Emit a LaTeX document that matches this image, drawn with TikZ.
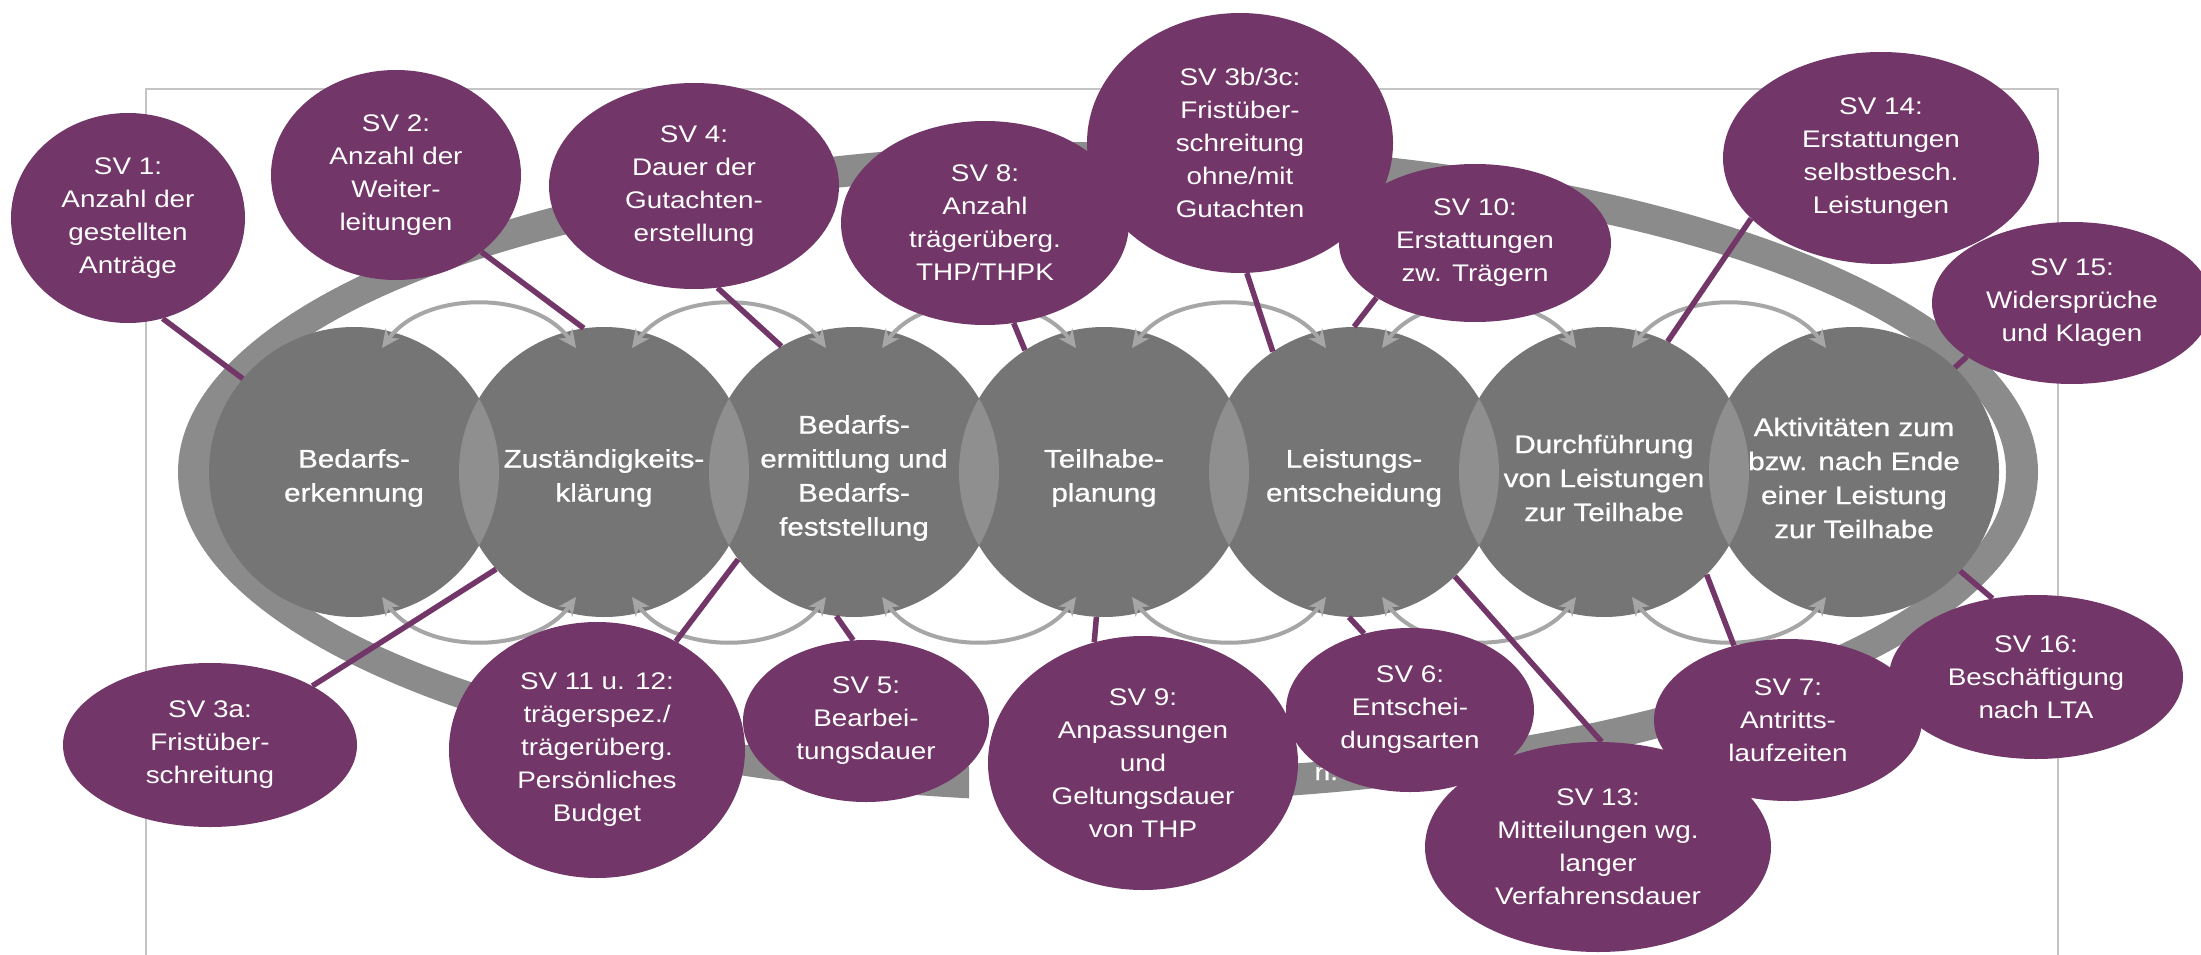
\documentclass[tikz,border=0pt]{standalone}
\usepackage{fontspec}
\setmainfont{Liberation Sans}[FakeStretch=1.16]
\newfontfamily\medfont{Liberation Sans}[FakeStretch=1.16,FakeBold=0.8]
\usetikzlibrary{shapes.geometric,arrows.meta,calc}
\definecolor{svpurple}{RGB}{115,54,104}
\definecolor{circgray}{RGB}{117,117,117}
\definecolor{lensgray}{RGB}{143,143,143}
\definecolor{bandgray}{RGB}{139,139,139}
\definecolor{arrgray}{RGB}{166,166,166}
\definecolor{framegray}{RGB}{196,196,196}
\pgfdeclarelayer{bg}\pgfdeclarelayer{circ}\pgfdeclarelayer{arr}\pgfdeclarelayer{conn}
\pgfsetlayers{bg,circ,arr,conn,main}
\tikzset{
  sv/.style={ellipse, fill=svpurple, inner sep=0pt, text=white, align=center,
    font=\fontsize{24}{33}\selectfont},
  gcirc/.style={circle, fill=circgray, minimum size=290pt, inner sep=0pt},
  glabel/.style={text=white, align=center, inner sep=0pt, font=\medfont\fontsize{25.5}{34}\selectfont},
  bandtext/.style={text=white, inner sep=0pt, font=\medfont\fontsize{24}{30}\selectfont},
  sarrow/.style={draw=arrgray, line width=4pt,
    {Stealth[length=18pt,width=17pt]}-{Stealth[length=18pt,width=17pt]}},
  conn/.style={draw=svpurple, line width=5.5pt},
  framestyle/.style={draw=framegray, line width=1.5pt},
}
\begin{document}
\begin{tikzpicture}[x=1pt,y=-1pt]
\useasboundingbox (0,0) rectangle (2201,955);

% ---------- background: frame and ring band ----------
\begin{pgfonlayer}{bg}
  \fill[white] (0,0) rectangle (2201,955);
  \draw[framestyle] (146,960) -- (146,89) -- (2058,89) -- (2058,960);
  \begin{scope}
    \clip (-10,-10) -- (2211,-10) -- (2211,965) -- (1200,965) -- (1200,600)
          -- (969,600) -- (969,965) -- (-10,965) -- cycle;
    \fill[bandgray, even odd rule]
      (1108,472) ellipse [x radius=930, y radius=330]
      (1108,472) ellipse [x radius=898, y radius=298];
  \end{scope}
  \node[bandtext, anchor=base east] (bandtxt) at (1338,780) {n.};
\end{pgfonlayer}

% ---------- process circles ----------
\begin{pgfonlayer}{circ}
  \foreach \i in {1,...,7}
    \node[gcirc] (c\i) at ({354+250*(\i-1)},472) {};
  \foreach \i [count=\j from 2] in {1,...,6} {
    \begin{scope}
      \clip (c\i.center) circle (145);
      \fill[lensgray] (c\j.center) circle (145);
    \end{scope}
  }
  \node[glabel] (l1) at ($(c1.center)+(0,6)$) {Bedarfs-\\erkennung};
  \node[glabel] (l2) at ($(c2.center)+(0,6)$) {Zuständigkeits-\\klärung};
  \node[glabel] (l3) at ($(c3.center)+(0,6)$) {Bedarfs-\\ermittlung und\\Bedarfs-\\feststellung};
  \node[glabel] (l4) at ($(c4.center)+(0,6)$) {Teilhabe-\\planung};
  \node[glabel] (l5) at ($(c5.center)+(0,6)$) {Leistungs-\\entscheidung};
  \node[glabel] (l6) at ($(c6.center)+(0,6)$) {Durchführung\\von Leistungen\\zur Teilhabe};
  \node[glabel] (l7) at ($(c7.center)+(0,6)$) {Aktivitäten zum\\bzw. nach Ende\\einer Leistung\\zur Teilhabe};
\end{pgfonlayer}

% ---------- small double arrows between circles ----------
\begin{pgfonlayer}{arr}
  \foreach \i [count=\j from 2] in {1,...,6} {
    \draw[sarrow] ($(c\i.center)+(28,-124)$) .. controls ($(c\i.center)+(70,-182)$)
      and ($(c\j.center)+(-70,-182)$) .. ($(c\j.center)+(-28,-124)$);
    \draw[sarrow] ($(c\i.center)+(28,125)$) .. controls ($(c\i.center)+(70,183)$)
      and ($(c\j.center)+(-70,183)$) .. ($(c\j.center)+(-28,125)$);
  }
\end{pgfonlayer}

% ---------- purple indicator bubbles ----------
\node[sv, minimum width=234pt, minimum height=210pt] (sv1) at (128,218) {SV 1:\\Anzahl der\\gestellten\\Anträge};
\node[sv, minimum width=250pt, minimum height=210pt] (sv2) at (396,175) {SV 2:\\Anzahl der\\Weiter-\\leitungen};
\node[sv, minimum width=290pt, minimum height=206pt] (sv4) at (694,186) {SV 4:\\Dauer der\\Gutachten-\\erstellung};
\node[sv, minimum width=288pt, minimum height=204pt] (sv8) at (985,223) {SV 8:\\Anzahl\\trägerüberg.\\THP/THPK};
\node[sv, minimum width=306pt, minimum height=260pt] (sv3b) at (1240,143) {SV 3b/3c:\\Fristüber-\\schreitung\\ohne/mit\\Gutachten};
\node[sv, minimum width=272pt, minimum height=158pt] (sv10) at (1475,243) {SV 10:\\Erstattungen\\zw. Trägern};
\node[sv, minimum width=316pt, minimum height=212pt] (sv14) at (1881,158) {SV 14:\\Erstattungen\\selbstbesch.\\Leistungen};
\node[sv, minimum width=280pt, minimum height=162pt] (sv15) at (2072,303) {SV 15:\\Widersprüche\\und Klagen};
\node[sv, minimum width=294pt, minimum height=164pt] (sv3a) at (210,745) {SV 3a:\\Fristüber-\\schreitung};
\node[sv, minimum width=296pt, minimum height=256pt] (sv11) at (597,750) {SV 11 u. 12:\\trägerspez./\\trägerüberg.\\Persönliches\\Budget};
\node[sv, minimum width=246pt, minimum height=162pt] (sv5) at (866,721) {SV 5:\\Bearbei-\\tungsdauer};
\node[sv, minimum width=310pt, minimum height=254pt] (sv9) at (1143,763) {SV 9:\\Anpassungen\\und\\Geltungsdauer\\von THP};
\node[sv, minimum width=248pt, minimum height=164pt] (sv6) at (1410,710) {SV 6:\\Entschei-\\dungsarten};
\node[sv, minimum width=294pt, minimum height=164pt] (sv16) at (2036,677) {SV 16:\\Beschäftigung\\nach LTA};
\node[sv, minimum width=268pt, minimum height=162pt] (sv7) at (1788,720) {SV 7:\\Antritts-\\laufzeiten};
\node[sv, minimum width=346pt, minimum height=210pt] (sv13) at (1598,847) {SV 13:\\Mitteilungen wg.\\langer\\Verfahrensdauer};

% ---------- connectors ----------
\begin{pgfonlayer}{conn}
  \draw[conn] (sv1.-71.6) -- (c1.140.6);
  \draw[conn] (sv2.-42.5) -- (c2.98.8);
  \draw[conn] (sv4.-77) -- (c3.120.5);
  \draw[conn] (sv8.-74.6) -- (c4.123.3);
  \draw[conn] (sv3b.-87.3) -- (c5.124.3);
  \draw[conn] (sv10.209.7) -- (c5.90.4);
  \draw[conn] (sv14.205.7) -- (c6.64.3);
  \draw[conn] (sv15.207) -- (c7.46.7);
  \draw[conn] (sv3a.30) -- (c2.222.5);
  \draw[conn] (sv11.54.7) -- (c3.217.6);
  \draw[conn] (sv5.99.1) -- (c3.263.7);
  \draw[conn] (sv9.112) -- (c4.267);
  \draw[conn] (sv6.121) -- (c5.268.8);
  \draw[conn] (sv13.88.9) -- (c5.314.1);
  \draw[conn] (sv7.126.9) -- (c6.315);
  \draw[conn] (sv16.119.4) -- (c7.317);
\end{pgfonlayer}
\end{tikzpicture}
\end{document}
